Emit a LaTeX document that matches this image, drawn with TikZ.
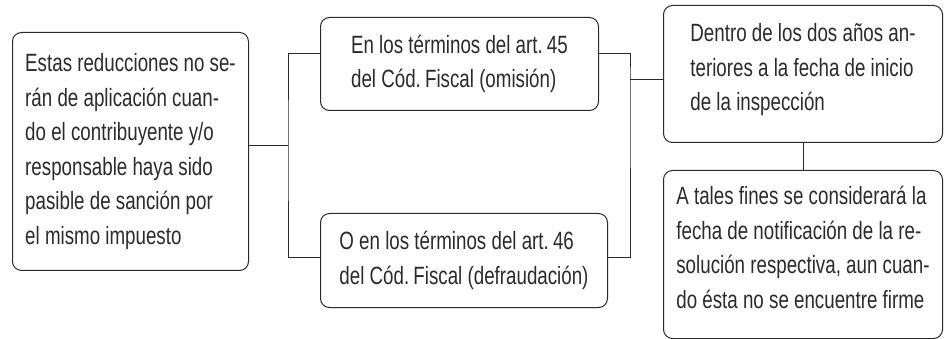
\documentclass[tikz,border=0pt]{standalone}
\usepackage{fontspec}
\setmainfont{Liberation Sans}[FakeStretch=0.75]
\usetikzlibrary{positioning}
\definecolor{tinta}{HTML}{2B2B2B}

\begin{document}
\begin{tikzpicture}[x=1pt,y=-1pt,
  caja/.style={draw=tinta,text=tinta,rounded corners=9pt,line width=1pt,align=left,anchor=north west,inner sep=0pt,font=\fontsize{25}{34.5}\selectfont},
  linea/.style={draw=tinta,line width=1pt}]
\useasboundingbox (0,0) rectangle (948,339);
% cajas
\node[caja,minimum width=236pt,minimum height=238pt] (reduc) at (12,32)
  {Estas reducciones no se-\\rán de aplicación cuan-\\do el contribuyente y/o\\responsable haya sido\\pasible de sanción por\\el mismo impuesto};
\node[caja,minimum width=278pt,minimum height=93pt] (omision) at (320,17)
  {En los términos del art.\,45\\del Cód.\,Fiscal (omisión)};
\node[caja,minimum width=287pt,minimum height=94pt] (defraud) at (320,213)
  {O en los términos del art.\,46\\del Cód.\,Fiscal (defraudación)};
\node[caja,minimum width=279pt,minimum height=137pt,text depth=14pt] (dentro) at (663,5)
  {Dentro de los dos años an-\\teriores a la fecha de inicio\\de la inspección};
\node[caja,minimum width=279pt,minimum height=168pt,text depth=14pt] (fines) at (663,170)
  {A tales fines se considerará la\\fecha de notificación de la re-\\solución respectiva, aun cuan-\\do ésta no se encuentre firme};
% conectores
\coordinate (izq) at (288,146);
\coordinate (der) at (630,80);
\path[linea] (reduc.east |- izq) -- (izq);
\path[linea] ([yshift=10.5pt]omision.west) -| (izq) |- ([yshift=3pt]defraud.west);
\path[linea] ([yshift=10.5pt]omision.east) -| (der) |- ([yshift=3pt]defraud.east);
\path[linea] (der) -- (dentro.west |- der);
\path[linea] (dentro.south) -- (fines.north);
\end{tikzpicture}
\end{document}
